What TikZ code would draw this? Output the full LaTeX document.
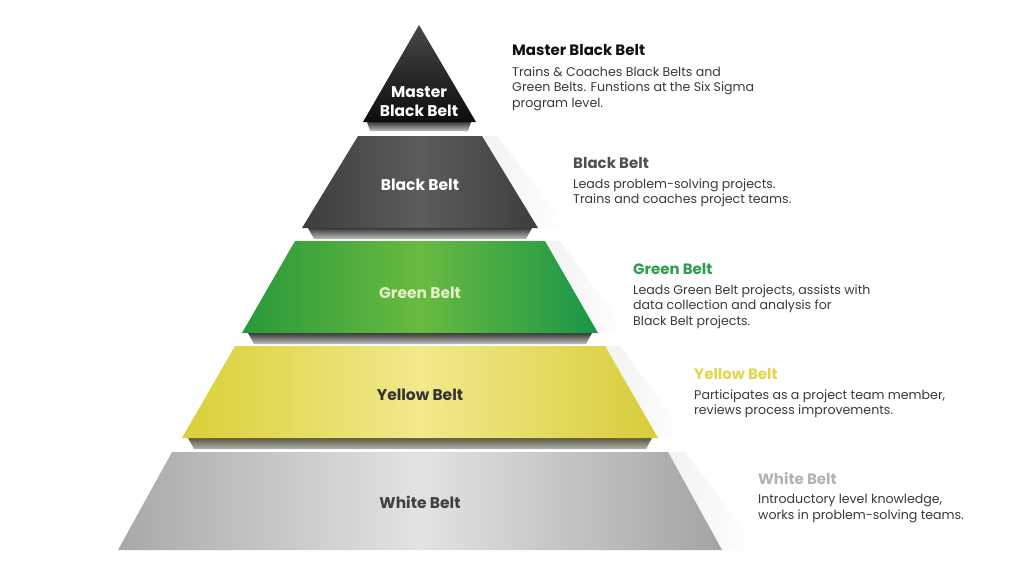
\documentclass[tikz,border=0pt]{standalone}
\usepackage{fontspec}
\setmainfont{Poppins}
\usepackage{tikz}
\usetikzlibrary{positioning}

\definecolor{desc}{HTML}{3A3A3A}
\definecolor{mastertxt}{HTML}{111111}
\definecolor{blacktxt}{HTML}{505050}
\definecolor{greentxt}{HTML}{2F9E4C}
\definecolor{yellowtxt}{HTML}{E2D64A}
\definecolor{whitetxt}{HTML}{B3B3B3}

\begin{document}
\begin{tikzpicture}[x=1pt,y=-1pt,
    belt/.style={align=center, font=\bfseries\fontsize{15.5}{19}\selectfont},
    title/.style={anchor=base west, inner sep=0pt, font=\bfseries\fontsize{15}{17}\selectfont},
    info/.style={anchor=north west, align=left, inner sep=0pt, text=desc,
                 font=\fontsize{12.6}{15.6}\selectfont},
    masterfill/.style={top color=black!72, bottom color=black!95},
    blackfill/.style={left color=black!76, right color=black!76, middle color=black!64},
    greenfill/.style={left color={rgb,255:red,40;green,153;blue,58},
                      right color={rgb,255:red,26;green,150;blue,72},
                      middle color={rgb,255:red,105;green,186;blue,64}},
    yellowfill/.style={left color={rgb,255:red,218;green,208;blue,56},
                       right color={rgb,255:red,216;green,205;blue,58},
                       middle color={rgb,255:red,241;green,233;blue,140}},
    whitefill/.style={left color=black!34, right color=black!36, middle color=black!11},
    grayband/.style={top color=black!78, bottom color=black!25},
    oliveband/.style={top color={rgb,255:red,92;green,88;blue,56}, bottom color=black!30},
    sidefade/.style={left color=black!5, right color=white},
  ]

  \useasboundingbox[fill=white] (0,0) rectangle (1024,575);

  % master layer
  \shade[grayband] (367,122) -- (471,122) -- (468,131) -- (370,131) -- cycle;
  \shade[masterfill] (419,25) -- (476,122) -- (363,122) -- cycle;

  % lower layers
  \foreach \tw/\yt/\bw/\yb/\sty/\bsty in {62/136/118/228/blackfill/grayband,
                                          125/241/178/333/greenfill/grayband,
                                          185/346/238/438/yellowfill/oliveband}
  {
    \shade[sidefade] (420+\tw,\yt) -- (420+\bw,\yb) -- (420+\bw+30,\yb) -- (420+\tw+15,\yt) -- cycle;
    \shade[\bsty] (420-\bw+6,\yb) -- (420+\bw-6,\yb) -- (420+\bw-12,\yb+11) -- (420-\bw+12,\yb+11) -- cycle;
    \shade[\sty] (420-\tw,\yt) -- (420+\tw,\yt) -- (420+\bw,\yb) -- (420-\bw,\yb) -- cycle;
  }
  \shade[sidefade] (668,452) -- (722,550) -- (760,550) -- (685,452) -- cycle;
  \shade[whitefill] (172,452) -- (668,452) -- (722,550) -- (118,550) -- cycle;

  % labels on the pyramid
  \node[belt, text=white] (mbb) at (419,102) {Master\\Black Belt};
  \node[belt, text=white] (bb) at (420,185) {Black Belt};
  \node[belt, text={rgb,255:red,228;green,242;blue,200}] (gb) at (420,293) {Green Belt};
  \node[belt, text=black!80] (yb) at (420,395) {Yellow Belt};
  \node[belt, text=black!75] (wb) at (420,502) {White Belt};

  % descriptions
  \node[title, text=mastertxt] (mbbt) at (512,56) {Master Black Belt};
  \node[info, below=10pt of mbbt.south west, anchor=north west] (mbbd)
    {Trains \& Coaches Black Belts and\\Green Belts. Funstions at the Six Sigma\\program level.};

  \node[title, text=blacktxt] (bbt) at (573,168) {Black Belt};
  \node[info, below=10pt of bbt.south west, anchor=north west] (bbd)
    {Leads problem-solving projects.\\Trains and coaches project teams.};

  \node[title, text=greentxt] (gbt) at (633,274) {Green Belt};
  \node[info, below=10pt of gbt.south west, anchor=north west] (gbd)
    {Leads Green Belt projects, assists with\\data collection and analysis for\\Black Belt projects.};

  \node[title, text=yellowtxt] (ybt) at (694,379) {Yellow Belt};
  \node[info, below=10pt of ybt.south west, anchor=north west] (ybd)
    {Participates as a project team member,\\reviews process improvements.};

  \node[title, text=whitetxt] (wbt) at (758,484) {White Belt};
  \node[info, below=10pt of wbt.south west, anchor=north west] (wbd)
    {Introductory level knowledge,\\works in problem-solving teams.};
\end{tikzpicture}
\end{document}
